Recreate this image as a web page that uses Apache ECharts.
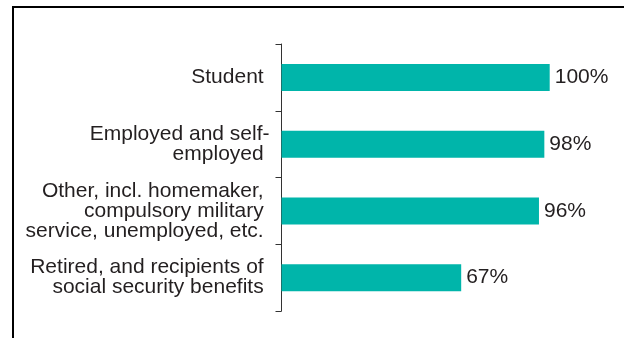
<!DOCTYPE html>
<html>
<head>
<meta charset="utf-8">
<script src="https://cdn.jsdelivr.net/npm/echarts@6/dist/echarts.min.js"></script>
<style>
  html, body { margin: 0; padding: 0; background: #ffffff; }
  #chart { width: 624px; height: 338px; }
</style>
</head>
<body>
<div id="chart"></div>
<script>
// Share by occupational status (percent).
// Lines carry a trailing space so the hyphenated line hangs slightly past the others.
var categories = [
  'Student ',
  'Employed and self-\nemployed ',
  'Other, incl. homemaker, \ncompulsory military \nservice, unemployed, etc. ',
  'Retired, and recipients of \nsocial security benefits '
];
var shares = [100, 98, 96, 67];

var FONT = '"Liberation Sans", Arial, sans-serif';
var TEXT = '#231F20';

var chart = echarts.init(document.getElementById('chart'), null, { renderer: 'canvas' });

chart.setOption({
  animation: false,
  backgroundColor: '#ffffff',
  grid: { left: 281.5, right: 74.3, top: 44, bottom: 27, containLabel: false },
  xAxis: {
    type: 'value',
    min: 0,
    max: 100,
    show: false
  },
  yAxis: {
    type: 'category',
    data: categories,
    inverse: true,
    axisLine: { show: true, lineStyle: { color: '#333333', width: 1 } },
    axisTick: { show: true, length: 6, lineStyle: { color: '#333333', width: 1 } },
    axisLabel: {
      margin: 12,
      fontFamily: FONT,
      fontSize: 21,
      lineHeight: 20,
      color: TEXT,
      align: 'right'
    },
    splitLine: { show: false }
  },
  series: [{
    type: 'bar',
    data: shares,
    barWidth: 27,
    itemStyle: { color: '#00B5AA' },
    label: {
      show: true,
      position: 'right',
      distance: 5,
      formatter: '{c}%',
      fontFamily: FONT,
      fontSize: 21,
      color: TEXT
    }
  }],
  graphic: [{
    type: 'polyline',
    silent: true,
    shape: { points: [[13, 338], [13, 7], [624, 7]] },
    style: { stroke: '#000000', lineWidth: 2, fill: null }
  }]
});
</script>
</body>
</html>
